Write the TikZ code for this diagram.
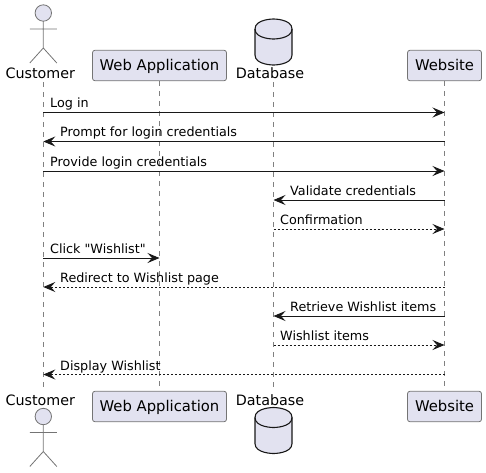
\documentclass[tikz,border=0pt]{standalone}
\usepackage{fontspec}
\setmainfont{DejaVu Sans}[Ligatures=TeXOff]
\usetikzlibrary{arrows.meta,backgrounds}
\definecolor{partfill}{HTML}{E2E2F0}
\definecolor{partline}{HTML}{181818}
\tikzset{
    partbox/.style={draw=partline!60, fill=partfill, rounded corners=2.5pt, line width=.8pt, minimum height=30.5pt, inner sep=0pt, text height=10pt, text depth=0pt, font=\fontsize{14.8}{16}\selectfont},
    partname/.style={inner sep=0pt, anchor=base, font=\fontsize{14.3}{16}\selectfont},
    lifeline/.style={draw=partline!55, line width=.7pt, dash pattern=on 5pt off 5pt},
    msg/.style={draw=partline, line width=.9pt, -{Stealth[length=12pt,width=10pt,inset=4.5pt]}},
    reply/.style={msg, dash pattern=on 2pt off 2pt},
    msgtext/.style={inner sep=0pt, anchor=base west, font=\fontsize{12.75}{15}\selectfont},
    pics/actor/.style={code={
        \draw[draw=partline!60, line width=.8pt, fill=partfill] (0,-16) circle (8.2pt);
        \draw[draw=partline!60, line width=.8pt] (0,-7.8) -- (0,19) (-13.5,0) -- (13.5,0) (-13.5,34) -- (0,19) -- (13.5,34);
    }},
    pics/dbcyl/.style={code={
        \draw[draw=partline, line width=1.1pt, fill=partfill] (-18.5,-13) .. controls (-18.5,-23) and (0,-23) .. (0,-23) .. controls (0,-23) and (18.5,-23) .. (18.5,-13) -- (18.5,13) .. controls (18.5,23) and (0,23) .. (0,23) .. controls (0,23) and (-18.5,23) .. (-18.5,13) -- cycle;
        \draw[draw=partline, line width=1.1pt] (-18.5,-13) .. controls (-18.5,-3) and (0,-3) .. (0,-3) .. controls (0,-3) and (18.5,-3) .. (18.5,-13);
    }}
}
\begin{document}
\begin{tikzpicture}[x=1pt, y=-1pt]
    \useasboundingbox (0,0) rectangle (486,472);
    \coordinate (cutop) at (43.3,82);
    \coordinate (cubot) at (43.3,389);
    \coordinate (dbtop) at (273.5,82);
    \coordinate (dbbot) at (273.5,389);
    \node[partbox, minimum width=134pt] (webtop) at (159.5,65.5) {Web Application};
    \node[partbox, minimum width=74pt] (sitetop) at (444.5,65.5) {Website};
    \node[partbox, minimum width=134pt] (webbot) at (159.5,406.5) {Web Application};
    \node[partbox, minimum width=74pt] (sitebot) at (444.5,406.5) {Website};
    % lifelines go under the boxes
    \begin{scope}[on background layer]
        \draw[lifeline] (cutop) -- (cubot);
        \draw[lifeline] (webtop) -- (webbot);
        \draw[lifeline] (dbtop) -- (dbbot);
        \draw[lifeline] (sitetop) -- (sitebot);
    \end{scope}
    % actors and databases
    \pic at (43.3,29) {actor};
    \pic at (43.3,432.5) {actor};
    \pic at (273.5,42) {dbcyl};
    \pic at (273.5,430.5) {dbcyl};
    \node[partname] (cuname) at (40.3,78) {Customer};
    \node[partname] (cunamebot) at (40.3,405) {Customer};
    \node[partname] (dbname) at (270,78) {Database};
    \node[partname] (dbnamebot) at (270,405) {Database};
    % rows
    \coordinate (r1) at (0,112.5);
    \coordinate (r2) at (0,141.5);
    \coordinate (r3) at (0,171);
    \coordinate (r4) at (0,200);
    \coordinate (r5) at (0,229);
    \coordinate (r6) at (0,258);
    \coordinate (r7) at (0,287);
    \coordinate (r8) at (0,316);
    \coordinate (r9) at (0,345);
    \coordinate (r10) at (0,374.5);
    % messages
    \draw[msg] (cutop |- r1) -- (sitetop |- r1);
    \draw[msg] (sitetop |- r2) -- (cutop |- r2);
    \draw[msg] (cutop |- r3) -- (sitetop |- r3);
    \draw[msg] (sitetop |- r4) -- (dbtop |- r4);
    \draw[reply] (dbtop |- r5) -- (sitetop |- r5);
    \draw[msg] (cutop |- r6) -- (webtop |- r6);
    \draw[reply] (sitetop |- r7) -- (cutop |- r7);
    \draw[msg] (sitetop |- r8) -- (dbtop |- r8);
    \draw[reply] (dbtop |- r9) -- (sitetop |- r9);
    \draw[reply] (sitetop |- r10) -- (cutop |- r10);
    \node[msgtext] (login) at (50,107) {Log in};
    \node[msgtext] (prompt) at (60,136) {Prompt for login credentials};
    \node[msgtext] (provide) at (50,166) {Provide login credentials};
    \node[msgtext] (validate) at (290,195) {Validate credentials};
    \node[msgtext] (confirm) at (280,224) {Confirmation};
    \node[msgtext] (click) at (50,253) {Click "Wishlist"};
    \node[msgtext] (redirect) at (60,282) {Redirect to Wishlist page};
    \node[msgtext] (retrieve) at (290,311) {Retrieve Wishlist items};
    \node[msgtext] (items) at (280,340) {Wishlist items};
    \node[msgtext] (display) at (60,370) {Display Wishlist};
\end{tikzpicture}
\end{document}
